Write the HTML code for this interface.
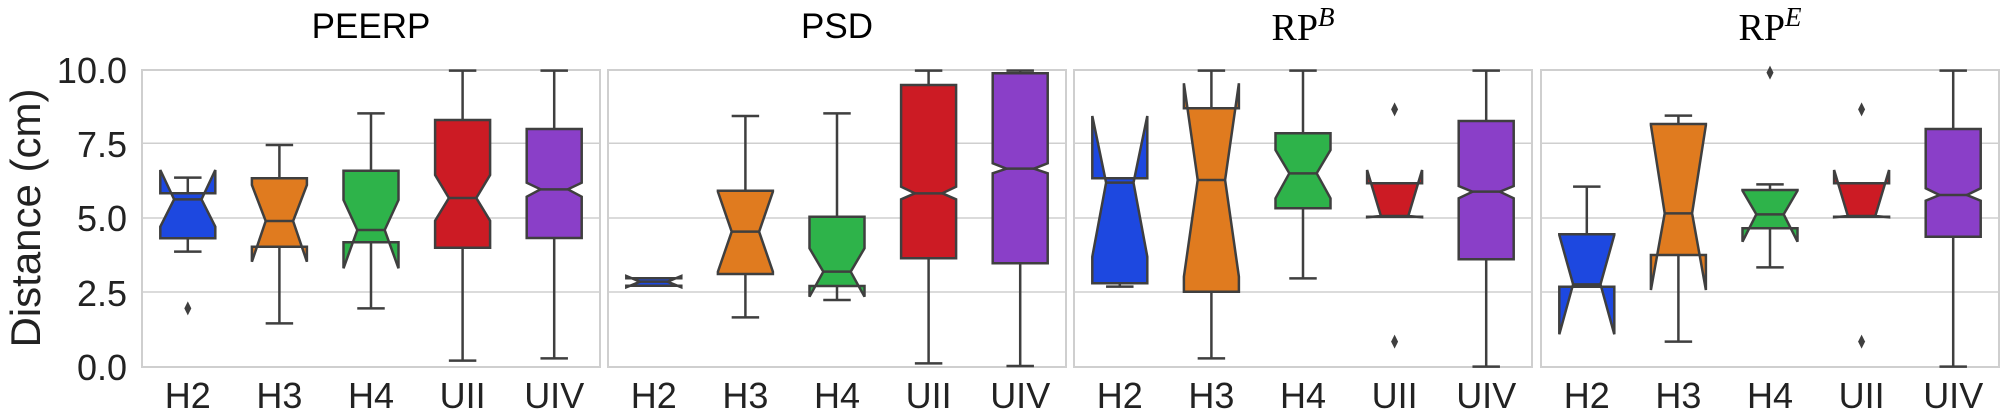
<!DOCTYPE html>
<html><head><meta charset="utf-8"><style>
html,body{margin:0;padding:0;background:#fff;}
svg{display:block;}
</style></head><body>
<svg id="s" width="2008" height="416" xmlns="http://www.w3.org/2000/svg" font-family="Liberation Sans, sans-serif">
<rect width="2008" height="416" fill="#fff"/>
<text x="40" y="218" font-size="42" fill="#222" text-anchor="middle" transform="rotate(-90 40 218)" dy="0">Distance (cm)</text>
<g font-size="36" fill="#222" text-anchor="end">
<text x="127" y="83">10.0</text>
<text x="127" y="157">7.5</text>
<text x="127" y="231">5.0</text>
<text x="127" y="306">2.5</text>
<text x="127" y="380">0.0</text>
</g>
<text x="371" y="38" font-size="35" text-anchor="middle" fill="#000">PEERP</text>
<text x="837" y="38" font-size="35" text-anchor="middle" fill="#000">PSD</text>
<text x="1303" y="40" font-size="38" text-anchor="middle" fill="#000" font-family="Liberation Serif, serif">RP<tspan font-style="italic" font-size="27" dy="-14">B</tspan></text>
<text x="1770" y="40" font-size="38" text-anchor="middle" fill="#000" font-family="Liberation Serif, serif">RP<tspan font-style="italic" font-size="27" dy="-14">E</tspan></text>
<g id="g"></g>
</svg>
<script>
(function(){
var g=document.getElementById('g');
var NS='http://www.w3.org/2000/svg';
function el(t,a){var e=document.createElementNS(NS,t);for(var k in a)e.setAttribute(k,a[k]);g.appendChild(e);return e;}
var panels=[142,608,1074,1541],PW=458,yTop=70,yBot=367;
var cols=['#1d48e0','#e07b1f','#2eb34a','#cc1b24','#8a3fc8'];
var names=['H2','H3','H4','UII','UIV'];
var D=[
[[580,715,598,510,680,533,755,[925]],[535,740,663,555,785,435,970,[]],[512,727,690,600,805,340,925,[]],[360,743,594,525,662,212,1082,[]],[387,714,568,548,590,212,1075,[]]],
[[835,857,845,828,862,835,857,[]],[572,822,695,575,815,348,952,[]],[650,858,815,745,890,340,900,[]],[255,775,580,560,598,212,1090,[]],[220,790,506,490,520,212,1098,[]]],
[[535,850,548,348,770,535,860,[]],[325,875,540,250,830,212,1075,[]],[400,625,520,450,595,212,835,[]],[550,650,648,510,652,550,650,[328,1025]],[363,778,575,558,595,212,1100,[]]],
[[703,860,853,705,1003,560,860,[]],[372,765,640,375,870,347,1025,[]],[570,685,643,572,725,553,802,[218]],[550,650,648,510,652,550,650,[328,1025]],[387,710,585,565,602,212,1100,[]]]
];
panels.forEach(function(px,p){
  [143.3,218,292].forEach(function(y){el('line',{x1:px,x2:px+PW,y1:y,y2:y,stroke:'#cfcfcf','stroke-width':1.5});});
  el('rect',{x:px,y:yTop,width:PW,height:yBot-yTop,fill:'none',stroke:'#cfcfcf','stroke-width':2});
  var cw=PW/5;
  D[p].forEach(function(b,i){
    var v=b.slice(0,7).map(function(t){return t/3;});
    var q3=v[0],q1=v[1],md=v[2],nh=v[3],nl=v[4],wh=v[5],wl=v[6];
    var cx=px+(i+0.5)*cw,w=cw*0.6,L=cx-w/2,R=cx+w/2,ins=w/4;
    var ln={stroke:'#3f3f3f','stroke-width':2.5};
    if(wh<q3-0.5){el('line',Object.assign({x1:cx,x2:cx,y1:wh,y2:q3},ln));el('line',Object.assign({x1:cx-w/4,x2:cx+w/4,y1:wh,y2:wh},ln));}
    if(wl>q1+0.5){el('line',Object.assign({x1:cx,x2:cx,y1:q1,y2:wl},ln));el('line',Object.assign({x1:cx-w/4,x2:cx+w/4,y1:wl,y2:wl},ln));}
    var pts=[[L,q1],[L,nl],[L+ins,md],[L,nh],[L,q3],[R,q3],[R,nh],[R-ins,md],[R,nl],[R,q1]];
    el('polygon',{points:pts.map(function(a){return a[0].toFixed(1)+','+a[1].toFixed(1);}).join(' '),fill:cols[i],stroke:'#3f3f3f','stroke-width':2.5,'stroke-linejoin':'miter'});
    el('line',Object.assign({x1:L+ins,x2:R-ins,y1:md,y2:md},ln));
    b[7].forEach(function(f){var y=f/3;el('polygon',{points:(cx)+','+(y-7)+' '+(cx+3.5)+','+y+' '+cx+','+(y+7)+' '+(cx-3.5)+','+y,fill:'#3f3f3f'});});
    var t=el('text',{x:cx,y:408,'font-size':36,'text-anchor':'middle',fill:'#222'});t.textContent=names[i];
  });
});
})();
</script>
</body></html>
